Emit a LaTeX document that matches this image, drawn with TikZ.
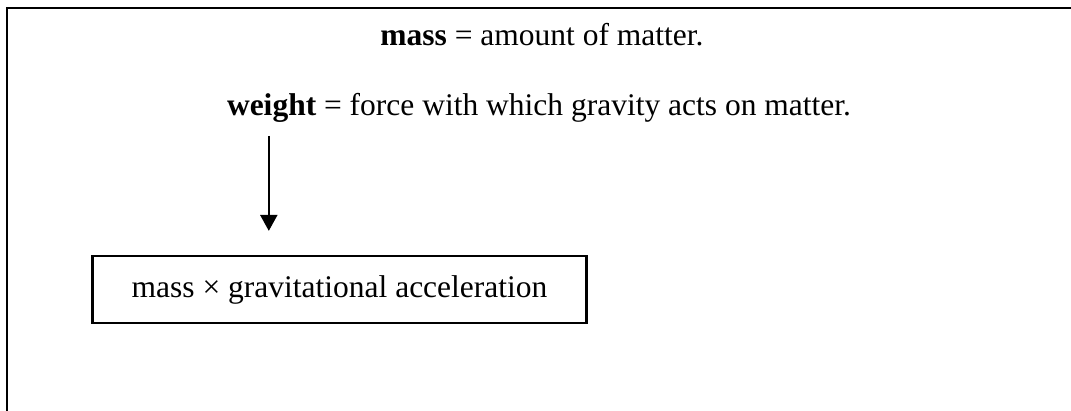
\documentclass[tikz,border=0pt]{standalone}
\usepackage{fontspec}
\setmainfont{Liberation Serif}
\usetikzlibrary{positioning,arrows.meta}

\begin{document}
\begin{tikzpicture}[x=1pt, y=1pt, font=\fontsize{31.5}{38}\selectfont,
  rule/.style={line width=2.4pt, draw=black},
  deftext/.style={inner sep=0pt, anchor=base},
  productbox/.style={draw=black, line width=2.2pt, minimum width=494pt, minimum height=67pt, inner sep=0pt},
  flow/.style={-{Triangle[width=17pt, length=16pt]}, line width=2.2pt, draw=black}]
  \useasboundingbox (0,0) rectangle (1071,411);
  \draw[rule] (1071,403) -- (7,403) -- (7,0);
  \node[deftext] (massdef) at (542,365) {\textbf{mass} = amount of matter.};
  \node[deftext, below=70pt of massdef.base, xshift=-3pt, anchor=base] (weightdef) {\textbf{weight} = force with which gravity acts on matter.};
  \node[productbox] (product) at (339.5,121.5) {mass × gravitational acceleration};
  \coordinate (wfoot) at ([shift={(42pt,-20pt)}]weightdef.base west);
  \draw[flow, shorten >=24pt] (wfoot) -- (wfoot |- product.north);
\end{tikzpicture}
\end{document}
